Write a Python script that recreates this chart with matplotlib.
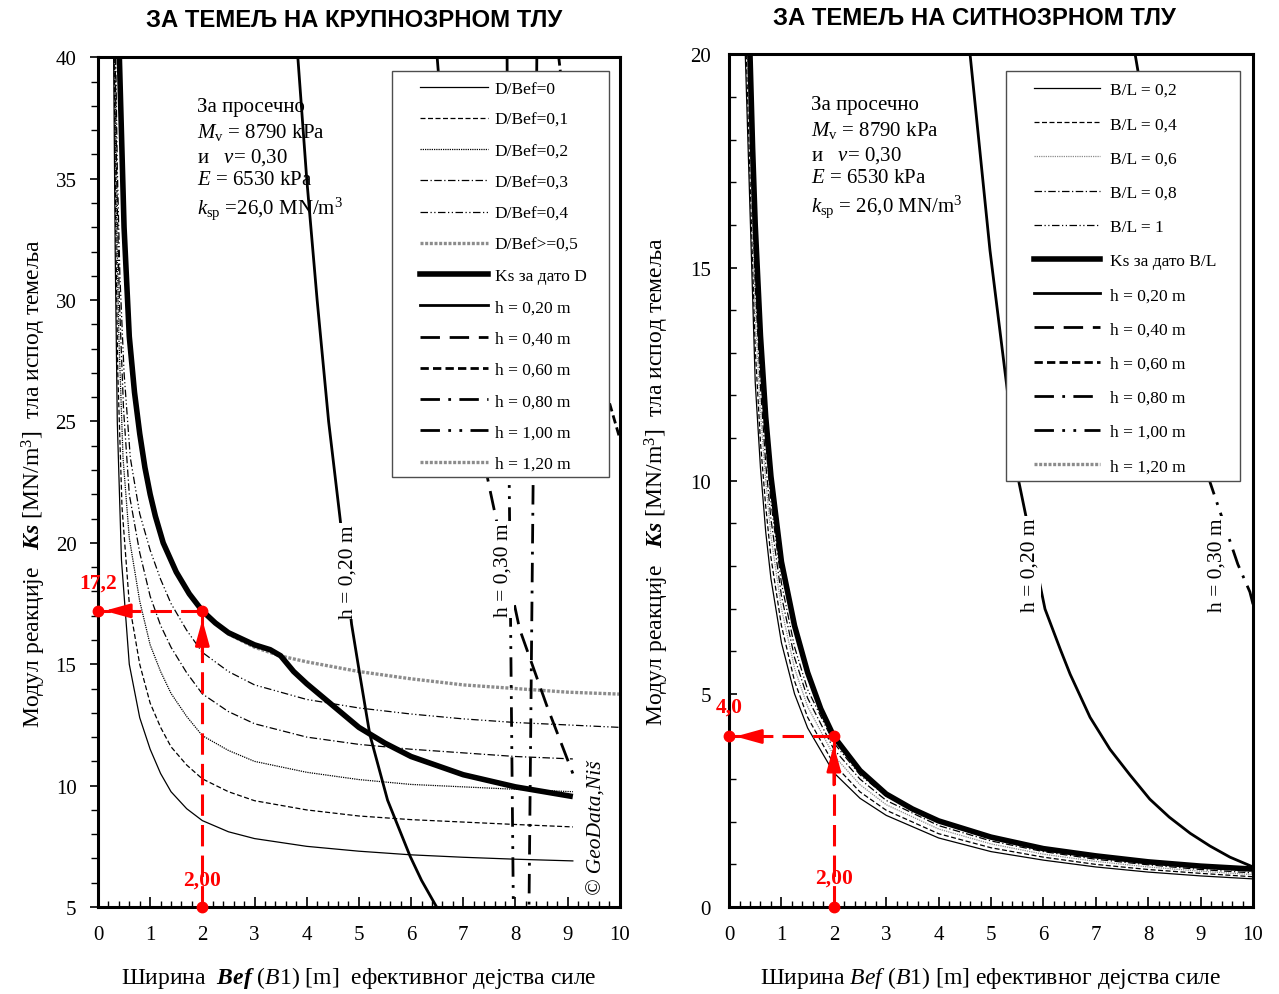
import numpy as np
import matplotlib.pyplot as plt
from matplotlib.lines import Line2D
from matplotlib.patches import Rectangle
from matplotlib.ticker import MultipleLocator

plt.rcParams['font.family'] = ['Liberation Serif', 'DejaVu Serif']
plt.rcParams['mathtext.fontset'] = 'custom'
plt.rcParams['mathtext.rm'] = 'Liberation Serif'
plt.rcParams['mathtext.it'] = 'Liberation Serif:italic'
plt.rcParams['mathtext.bf'] = 'Liberation Serif:bold'
plt.rcParams['mathtext.bfit'] = 'Liberation Serif:italic:bold'

# ---------------- left chart: coarse grained soil ----------------
d0_x = [0.30, 0.33, 0.37, 0.45, 0.6, 0.8, 1.0, 1.2, 1.4, 1.7, 2, 2.5, 3, 4, 5, 6, 7, 8, 9.1]
d0_y = [40, 32, 25, 19.3, 15, 12.8, 11.5, 10.5, 9.75, 9.05, 8.56, 8.1, 7.82, 7.5, 7.3, 7.15, 7.05, 6.97, 6.9]
d1_x = [0.31, 0.34, 0.38, 0.46, 0.6, 0.8, 1.0, 1.2, 1.4, 1.7, 2, 2.5, 3, 4, 5, 6, 7, 8, 9.1]
d1_y = [40, 33, 27, 21.5, 17.5, 15, 13.4, 12.4, 11.6, 10.85, 10.28, 9.75, 9.38, 9.0, 8.75, 8.6, 8.5, 8.4, 8.3]
d2_x = [0.32, 0.35, 0.4, 0.48, 0.6, 0.8, 1.0, 1.2, 1.4, 1.7, 2, 2.5, 3, 4, 5, 6, 7, 8, 9.1]
d2_y = [40, 34, 28.5, 23.5, 20.2, 17.6, 15.8, 14.7, 13.8, 12.85, 12.06, 11.45, 11.0, 10.55, 10.25, 10.05, 9.95, 9.85, 9.75]
d3_x = [0.33, 0.36, 0.41, 0.49, 0.6, 0.8, 1.0, 1.2, 1.4, 1.7, 2, 2.5, 3, 4, 5, 6, 7, 8, 9.1]
d3_y = [40, 35, 30, 25.5, 22, 19.6, 17.8, 16.6, 15.7, 14.65, 13.78, 13.05, 12.55, 12.0, 11.7, 11.5, 11.35, 11.2, 11.1]
d4_x = [0.34, 0.37, 0.42, 0.5, 0.62, 0.8, 1.0, 1.2, 1.4, 1.7, 2, 2.5, 3, 4, 5, 6, 7, 8, 9, 10]
d4_y = [40, 35.5, 31, 27, 23.5, 21.2, 19.7, 18.5, 17.5, 16.4, 15.49, 14.7, 14.15, 13.55, 13.2, 12.95, 12.75, 12.6, 12.5, 12.4]
d5_x = [0.41, 0.5, 0.6, 0.7, 0.8, 0.9, 1.0, 1.1, 1.25, 1.5, 1.75, 2, 2.25, 2.5, 3, 3.5, 4, 5, 6, 7, 8, 9, 10]
d5_y = [40, 33, 28.5, 26.2, 24.5, 23.1, 22, 21.1, 20, 18.8, 17.9, 17.2, 16.7, 16.25, 15.7, 15.34, 15.1, 14.7, 14.4, 14.15, 14.0, 13.85, 13.77]
ks_l_x = [0.41, 0.5, 0.6, 0.7, 0.8, 0.9, 1.0, 1.1, 1.25, 1.5, 1.75, 2, 2.25, 2.5, 3, 3.3, 3.5, 3.75, 4, 4.5, 5, 5.5, 6, 7, 8, 9.1]
ks_l_y = [40, 33, 28.5, 26.2, 24.5, 23.1, 22, 21.1, 20, 18.8, 17.9, 17.2, 16.7, 16.3, 15.8, 15.6, 15.35, 14.7, 14.2, 13.3, 12.4, 11.75, 11.2, 10.45, 9.95, 9.55]

h20_l_x = [3.83, 4.0, 4.2, 4.42, 4.64, 4.86, 5.0, 5.21, 5.55, 5.98, 6.2, 6.49]
h20_l_y = [40, 35, 30, 25, 21, 16.65, 14.8, 12.1, 9.4, 7.1, 6.1, 5.0]
h40_l_x = [6.5, 6.8, 7.1, 7.51, 8.08, 8.6, 9.1]
h40_l_y = [40, 32, 26.5, 22.2, 16.45, 13.3, 10.5]
h60_l_x = [8.83, 9.2, 9.77, 10]
h60_l_y = [40, 33, 26, 24.3]
h80_l_x = [8.41, 8.34, 8.26]
h80_l_y = [40, 22.7, 5]
h100_l_x = [7.84, 7.88, 7.96]
h100_l_y = [40, 22.7, 5]

d_labels = ['D/Bef=0', 'D/Bef=0,1', 'D/Bef=0,2', 'D/Bef=0,3', 'D/Bef=0,4', 'D/Bef>=0,5']
h_labels = ['h = 0,20 m', 'h = 0,40 m', 'h = 0,60 m', 'h = 0,80 m', 'h = 1,00 m', 'h = 1,20 m']

# ---------------- right chart: fine grained soil ----------------
ks_r_x = [0.40, 0.45, 0.5, 0.6, 0.7, 0.8, 1.0, 1.25, 1.5, 1.75, 2, 2.5, 3, 3.5, 4, 5, 6, 7, 8, 9, 10]
ks_r_y = [20, 17.8, 16, 13.4, 11.5, 10.1, 8.1, 6.6, 5.5, 4.65, 4.0, 3.2, 2.65, 2.3, 2.02, 1.64, 1.37, 1.2, 1.06, 0.96, 0.89]
bl_x = [0.5, 0.6, 0.7, 0.8, 1.0, 1.25, 1.5, 2, 2.5, 3, 4, 5, 6, 7, 8, 9, 10]
bl_start_x = [0.31, 0.33, 0.35, 0.365, 0.38]
bl02_y = [12.3, 10.3, 8.8, 7.7, 6.2, 5.0, 4.2, 3.15, 2.55, 2.15, 1.62, 1.3, 1.1, 0.94, 0.82, 0.73, 0.66]
bl04_y = [13.1, 10.9, 9.4, 8.2, 6.6, 5.3, 4.45, 3.35, 2.7, 2.27, 1.72, 1.39, 1.17, 1.0, 0.88, 0.79, 0.71]
bl06_y = [13.9, 11.6, 10.0, 8.7, 7.0, 5.6, 4.7, 3.55, 2.87, 2.4, 1.83, 1.48, 1.24, 1.07, 0.94, 0.84, 0.76]
bl08_y = [14.6, 12.2, 10.4, 9.1, 7.3, 5.85, 4.9, 3.7, 3.0, 2.5, 1.91, 1.55, 1.3, 1.12, 0.99, 0.88, 0.8]
bl10_y = [15.2, 12.7, 10.9, 9.5, 7.6, 6.1, 5.1, 3.85, 3.1, 2.6, 1.99, 1.61, 1.36, 1.17, 1.03, 0.92, 0.84]
bl_labels = ['B/L = 0,2', 'B/L = 0,4', 'B/L = 0,6', 'B/L = 0,8', 'B/L = 1']

h20_r_x = [4.6, 4.98, 5.52, 6.03, 6.32, 6.51, 6.89, 7.27, 7.65, 8.03, 8.4, 8.8, 9.18, 9.56, 10]
h20_r_y = [20, 15.4, 10.04, 6.99, 6.05, 5.46, 4.45, 3.7, 3.1, 2.53, 2.11, 1.73, 1.43, 1.17, 0.94]
h30_r_x = [7.75, 8.3, 8.8, 9.18, 9.5, 9.71, 9.94, 10]
h30_r_y = [20, 16, 12.5, 9.96, 8.8, 8.04, 7.39, 7.1]

# given values read with the red arrows
b_given = 2.0
ks_left_given = 17.2
ks_right_given = 4.0

thin = 0.9
hw = 2.0
gray = '0.55'
dot_gray = (0, (0.9, 0.5))
d_styles = ['-', (0, (4, 2)), (0, (1, 0.8)), (0, (6, 2, 1, 2)), (0, (6, 2, 1, 2, 1, 2))]
h_styles = ['-', (0, (7, 3.5)), (0, (3, 1.5)), (0, (7, 3, 1, 3)), (0, (7, 3, 1, 3, 1, 3))]
red_dash = (0, (7, 3))
red_head = '-|>,head_length=0.65,head_width=0.18'

fig = plt.figure(figsize=(12.79, 9.95), dpi=100)
ax1 = fig.add_axes([0.0766, 0.0874, 0.408, 0.854])
ax2 = fig.add_axes([0.570, 0.0874, 0.4097, 0.857])

# left curves
for (xs, ys), ls in zip([(d0_x, d0_y), (d1_x, d1_y), (d2_x, d2_y), (d3_x, d3_y), (d4_x, d4_y)], d_styles):
    ax1.plot(xs, ys, color='black', lw=thin, ls=ls)
ax1.plot(d5_x, d5_y, color=gray, lw=2.4, ls=dot_gray)
ax1.plot(ks_l_x, ks_l_y, color='black', lw=4, solid_capstyle='butt', solid_joinstyle='round')
ax1.plot(h20_l_x, h20_l_y, color='black', lw=hw)
ax1.plot(h40_l_x, h40_l_y, color='black', lw=hw, ls=h_styles[1])
ax1.plot(h60_l_x, h60_l_y, color='black', lw=hw, ls=h_styles[2])
ax1.plot(h80_l_x, h80_l_y, color='black', lw=hw, ls=h_styles[3])
ax1.plot(h100_l_x, h100_l_y, color='black', lw=hw, ls=h_styles[4])

# right curves
for ys, x0, ls in zip([bl02_y, bl04_y, bl06_y, bl08_y, bl10_y], bl_start_x, d_styles):
    c = gray if ls == d_styles[2] else 'black'
    ax2.plot([x0] + bl_x, [20] + ys, color=c, lw=thin, ls=ls)
ax2.plot(ks_r_x, ks_r_y, color='black', lw=4, solid_joinstyle='round')
ax2.plot(h20_r_x, h20_r_y, color='black', lw=hw)
ax2.plot(h30_r_x, h30_r_y, color='black', lw=hw, ls=h_styles[3])

# red read-off arrows
for ax, kv, y0, span in [(ax1, ks_left_given, 5, 35), (ax2, ks_right_given, 0, 20)]:
    ax.plot([b_given, b_given], [y0, kv], color='red', lw=2.2, ls=red_dash, zorder=6)
    ax.plot([b_given, 0], [kv, kv], color='red', lw=2.2, ls=red_dash, zorder=6)
    ax.plot([b_given, b_given, 0], [y0, kv, kv], 'o', color='red', ms=7.5, clip_on=False, zorder=7)
    ax.annotate('', xy=(b_given, kv - span * 0.007), xytext=(b_given, kv - span * 0.06),
                arrowprops=dict(arrowstyle=red_head, color='red', lw=2, mutation_scale=24), zorder=7)
    ax.annotate('', xy=(0.07, kv), xytext=(0.7, kv),
                arrowprops=dict(arrowstyle=red_head, color='red', lw=2, mutation_scale=24), zorder=7)

red_txt = dict(color='red', fontsize=15.5, fontweight='bold', ha='center', va='center')
ax1.text(0, 18.38, '17,2', **red_txt)
ax1.text(2, 6.15, '2,00', **red_txt)
ax2.text(0, 4.69, '4,0', **red_txt)
ax2.text(2, 0.7, '2,00', **red_txt)

# line labels
box = dict(facecolor='white', edgecolor='none', pad=1)
lab = dict(rotation=90, fontsize=15.5, ha='center', va='center', bbox=box, zorder=5)
ax1.text(4.79, 18.84, 'h = 0,20 m', **lab)
ax1.text(7.76, 18.9, 'h = 0,30 m', **lab)
ax2.text(5.74, 8.04, 'h = 0,20 m', **lab)
ax2.text(9.31, 8.04, 'h = 0,30 m', **lab)
ax1.text(9.56, 8.3, '© GeoData,Niš', rotation=90, fontsize=15.5, style='italic', ha='center', va='center')

info = ['За просечно', r'$M_{\mathrm{v}}$ = 8790 kPa', r'и   $\nu$= 0,30', r'$E$ = 6530 kPa']
ax1.text(0.19, 0.953, '\n'.join(info + [r'$k_{\mathrm{sp}}$ =26,0 MN/m$^3$']), transform=ax1.transAxes,
         fontsize=15, va='top', ha='left', linespacing=1.27)
ax2.text(0.156, 0.952, '\n'.join(info + [r'$k_{\mathrm{sp}}$ = 26,0 MN/m$^3$']), transform=ax2.transAxes,
         fontsize=15, va='top', ha='left', linespacing=1.27)


# legends: frame drawn as a patch, entries placed inside it
def handles(first_labels, ks_label, gray_third):
    hs = []
    for i, ls in enumerate(d_styles[:5]):
        c = gray if (gray_third and i == 2) else 'black'
        hs.append(Line2D([], [], color=c, lw=thin, ls=ls))
    if len(first_labels) == 6:
        hs.append(Line2D([], [], color=gray, lw=2.4, ls=dot_gray))
    hs.append(Line2D([], [], color='black', lw=4))
    for ls in h_styles[:5]:
        hs.append(Line2D([], [], color='black', lw=hw, ls=ls))
    hs.append(Line2D([], [], color=gray, lw=2.4, ls=dot_gray))
    return hs, first_labels + [ks_label] + h_labels


for ax, frame, anchor, lspace, hlen, hpad, d_lab, ks_lab, g3 in [
        (ax1, (0.563, 0.506, 0.416, 0.4775), (0.617, 0.9726), 0.87, 3.9, 0.4, d_labels, 'Ks за дато D', False),
        (ax2, (0.5286, 0.4994, 0.4466, 0.4807), (0.582, 0.9677), 1.04, 3.8, 0.58, bl_labels, 'Ks за дато B/L', True)]:
    ax.add_patch(Rectangle(frame[:2], frame[2], frame[3], transform=ax.transAxes, facecolor='white',
                           edgecolor='0.3', lw=1.0, zorder=4.5))
    hs, lb = handles(d_lab, ks_lab, g3)
    ax.legend(hs, lb, loc='upper left', bbox_to_anchor=anchor, fontsize=12.5, frameon=False,
              handlelength=hlen, handletextpad=hpad, labelspacing=lspace, borderpad=0, borderaxespad=0)

# axes formatting
for ax, ylim, ydir, ypad in [(ax1, (5, 40), 'out', 9.5), (ax2, (0, 20), 'in', 13)]:
    ax.set_xlim(0, 10)
    ax.set_ylim(*ylim)
    ax.xaxis.set_major_locator(MultipleLocator(1))
    ax.xaxis.set_minor_locator(MultipleLocator(0.2))
    ax.yaxis.set_major_locator(MultipleLocator(5))
    ax.yaxis.set_minor_locator(MultipleLocator(1))
    ax.tick_params(axis='x', which='both', direction='in', labelsize=15, pad=13)
    ax.tick_params(axis='x', which='major', length=7, width=1.2)
    ax.tick_params(axis='x', which='minor', length=4, width=1)
    ax.tick_params(axis='y', which='both', direction=ydir, labelsize=15, pad=ypad)
    ax.tick_params(axis='y', which='major', length=6, width=1.2)
    ax.tick_params(axis='y', which='minor', length=5, width=1)
    for s in ax.spines.values():
        s.set_linewidth(2.2)

ax1.set_xlabel(r'Ширина  $\mathbfit{Bef}$ ($\mathit{B1}$) [m]  ефективног дејства силе', fontsize=17, labelpad=14)
ax2.set_xlabel(r'Ширина $\mathit{Bef}$ ($\mathit{B1}$) [m] ефективног дејства силе', fontsize=17, labelpad=14)
ylab = r'Модул реакције   $\mathbfit{Ks}$ [MN/m$^3$]  тла испод темеља'
ax1.set_ylabel(ylab, fontsize=17, labelpad=5)
ax2.set_ylabel(ylab, fontsize=17, labelpad=14)

fig.text(0.277, 0.979, 'ЗА ТЕМЕЉ НА КРУПНОЗРНОМ ТЛУ', family='Liberation Sans', fontweight='bold',
         fontsize=17.2, ha='center', va='center')
fig.text(0.762, 0.981, 'ЗА ТЕМЕЉ НА СИТНОЗРНОМ ТЛУ', family='Liberation Sans', fontweight='bold',
         fontsize=17.2, ha='center', va='center')

fig.savefig('out.png', dpi=100)
